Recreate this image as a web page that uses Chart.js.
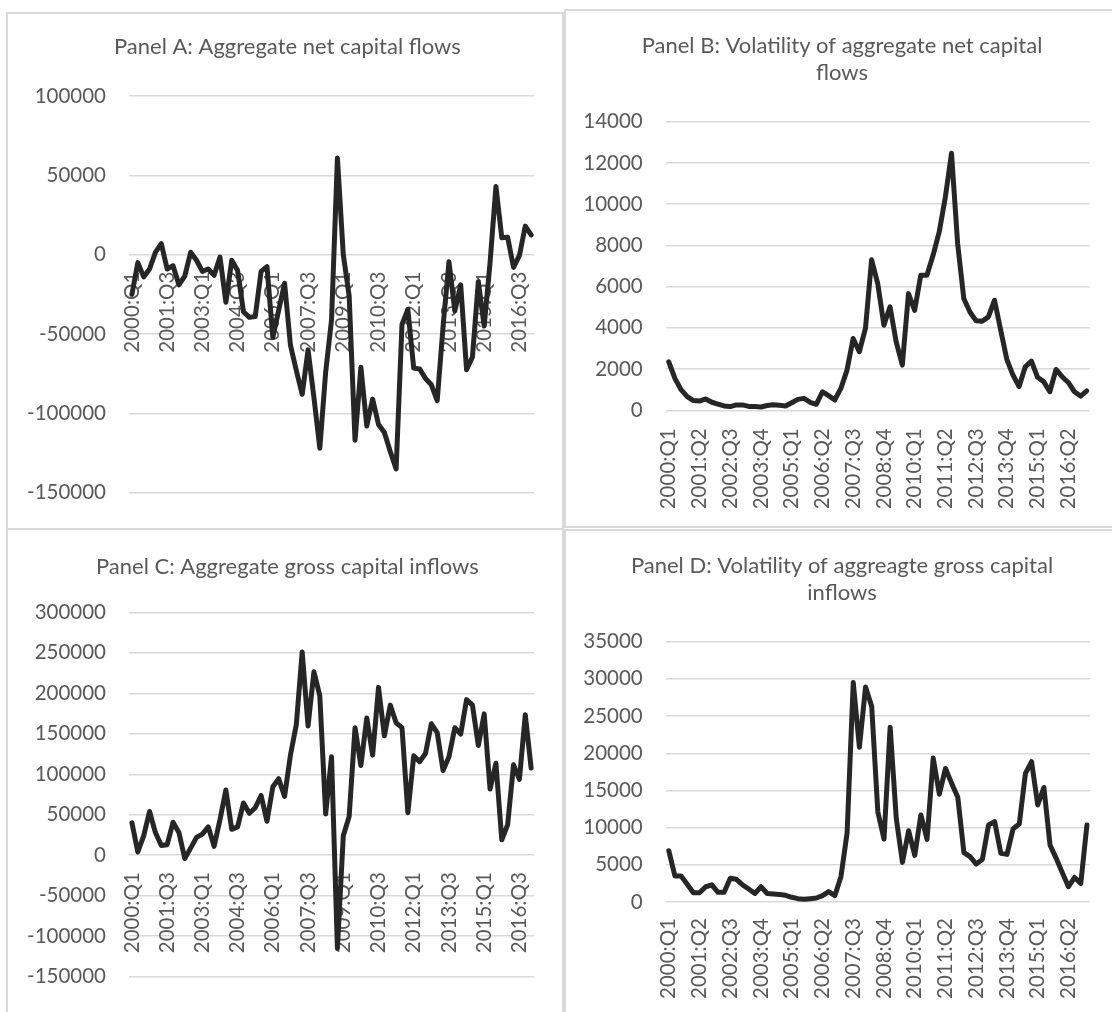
<!DOCTYPE html>
<html>
<head>
<meta charset="utf-8">
<title>Capital flows</title>
<script src="https://cdn.jsdelivr.net/npm/chart.js@4.4.1/dist/chart.umd.min.js"></script>
<style>
  body { margin: 0; background: #fff; width: 1112px; height: 1012px; overflow: hidden; position: relative; }
  .box { position: absolute; box-sizing: border-box; border: 2px solid #d9d9d9; }
  canvas { position: absolute; }
</style>
</head>
<body>
<div class="box" style="left:6px;top:12px;width:558px;height:518px"></div>
<div class="box" style="left:564px;top:9px;width:560px;height:519px"></div>
<div class="box" style="left:6px;top:528px;width:558px;height:500px"></div>
<div class="box" style="left:564px;top:529px;width:560px;height:500px"></div>
<canvas id="panelA" width="554" height="514" style="left:8px;top:14px"></canvas>
<canvas id="panelB" width="546" height="515" style="left:566px;top:11px"></canvas>
<canvas id="panelC" width="554" height="482" style="left:8px;top:530px"></canvas>
<canvas id="panelD" width="546" height="482" style="left:566px;top:530px"></canvas>
<script>
// quarters 2000:Q1 .. 2017:Q1
var quarters = [
  "2000:Q1", "2000:Q2", "2000:Q3", "2000:Q4", "2001:Q1", "2001:Q2", "2001:Q3", "2001:Q4",
  "2002:Q1", "2002:Q2", "2002:Q3", "2002:Q4", "2003:Q1", "2003:Q2", "2003:Q3", "2003:Q4",
  "2004:Q1", "2004:Q2", "2004:Q3", "2004:Q4", "2005:Q1", "2005:Q2", "2005:Q3", "2005:Q4",
  "2006:Q1", "2006:Q2", "2006:Q3", "2006:Q4", "2007:Q1", "2007:Q2", "2007:Q3", "2007:Q4",
  "2008:Q1", "2008:Q2", "2008:Q3", "2008:Q4", "2009:Q1", "2009:Q2", "2009:Q3", "2009:Q4",
  "2010:Q1", "2010:Q2", "2010:Q3", "2010:Q4", "2011:Q1", "2011:Q2", "2011:Q3", "2011:Q4",
  "2012:Q1", "2012:Q2", "2012:Q3", "2012:Q4", "2013:Q1", "2013:Q2", "2013:Q3", "2013:Q4",
  "2014:Q1", "2014:Q2", "2014:Q3", "2014:Q4", "2015:Q1", "2015:Q2", "2015:Q3", "2015:Q4",
  "2016:Q1", "2016:Q2", "2016:Q3", "2016:Q4", "2017:Q1"
];

var netFlows = [
  -25000, -5000, -14000, -9000, 1500, 7000, -9000, -7000, -19000, -13500,
  1500, -3500, -10500, -9000, -13000, -1500, -30000, -3500, -10000, -36000,
  -39500, -39000, -10500, -7500, -52000, -35000, -18000, -57000, -73000, -88000,
  -60000, -90000, -122000, -74000, -41000, 61000, 0, -26000, -117000, -71000,
  -108000, -91000, -107000, -112000, -124000, -135000, -44000, -34500, -71500, -72000,
  -78000, -82000, -92000, -45000, -4500, -35500, -19000, -72500, -64500, -17000,
  -45000, -5000, 43000, 10700, 11000, -8000, -500, 18000, 12500
];

var netVolatility = [
  2350, 1550, 1000, 660, 470, 450, 550, 390, 300, 210,
  180, 260, 260, 190, 180, 160, 230, 270, 240, 210,
  370, 530, 580, 390, 290, 900, 710, 500, 1060, 1950,
  3480, 2840, 3970, 7300, 6150, 4130, 5020, 3320, 2190, 5660,
  4850, 6550, 6550, 7520, 8650, 10340, 12470, 8080, 5420, 4770,
  4340, 4320, 4530, 5340, 3890, 2470, 1710, 1150, 2110, 2390,
  1600, 1390, 900, 1980, 1630, 1350, 900, 690, 940
];

var grossInflows = [
  40000, 4000, 24000, 54000, 28000, 12000, 13000, 40700, 28000, -4000,
  8800, 22000, 26000, 35000, 11000, 44000, 80500, 32000, 35000, 64600,
  51800, 58600, 73800, 41900, 84500, 94500, 72600, 123600, 161500, 251000,
  159500, 226500, 197000, 51000, 121600, -115000, 24000, 47800, 157500, 110800,
  169500, 123600, 207300, 147500, 185400, 163500, 157500, 52600, 122800, 115600,
  125600, 162300, 151500, 104500, 121600, 157500, 149500, 192200, 185400, 135600,
  174600, 81700, 113600, 19100, 37900, 111600, 93700, 173400, 107600
];

var grossVolatility = [
  6900, 3500, 3500, 2400, 1250, 1250, 2050, 2300, 1300, 1300,
  3200, 3050, 2300, 1750, 1150, 2050, 1150, 1080, 1000, 900,
  630, 450, 360, 450, 540, 850, 1400, 850, 3400, 9300,
  29500, 20800, 28900, 26300, 12100, 8470, 23500, 11200, 5330, 9590,
  6270, 11700, 8420, 19350, 14500, 17960, 15950, 14070, 6630, 6090,
  5100, 5730, 10350, 10800, 6540, 6400, 9860, 10480, 17300, 18860,
  13040, 15400, 7660, 5870, 3940, 2060, 3300, 2500, 10350
];

var titleA = "Panel A: Aggregate net capital flows";
var titleB = ["Panel B: Volatility of aggregate net capital", "flows"];
var titleC = "Panel C: Aggregate gross capital inflows";
var titleD = ["Panel D: Volatility of aggreagte gross capital", "inflows"];

Chart.defaults.font.family = "Lato";
Chart.defaults.color = "#595959";

// Excel centres the title a bit right of where Chart.js puts it
var shiftTitle = {
  id: "shiftTitle",
  afterLayout: function (chart, args, opts) {
    if (chart.titleBlock) {
      chart.titleBlock.left += opts.dx;
      chart.titleBlock.right += opts.dx;
    }
  },
};

function makePanel(id, title, values, yMin, yMax, yStep, every, s) {
  var xScale = {
    type: "category",
    offset: true,
    grid: { display: false, drawTicks: false },
    border: { display: false },
    ticks: {
      autoSkip: false,
      minRotation: 90,
      maxRotation: 90,
      padding: s.xPad,
      font: { size: 20.5 },
      color: "#595959",
      callback: function (v, i) {
        return i % every === 0 ? quarters[i] : null;
      },
    },
  };
  if (s.atZero) {
    xScale.position = { y: 0 };
  } else {
    xScale.afterFit = function (scale) {
      scale.height = s.xHeight;
    };
  }

  return new Chart(document.getElementById(id).getContext("2d"), {
    type: "line",
    data: {
      labels: quarters,
      datasets: [
        {
          data: values,
          borderColor: "#262626",
          borderWidth: 5,
          borderJoinStyle: "round",
          borderCapStyle: "round",
          pointRadius: 0,
          tension: 0,
          fill: false,
        },
      ],
    },
    plugins: [shiftTitle],
    options: {
      responsive: false,
      animation: false,
      layout: { padding: { left: 0, top: 0, right: s.padRight, bottom: s.padBottom } },
      plugins: {
        legend: { display: false },
        tooltip: { enabled: false },
        shiftTitle: { dx: s.titleShift },
        title: {
          display: true,
          text: title,
          color: "#595959",
          font: { size: 22, weight: "normal", lineHeight: "27px" },
          padding: { top: s.titleTop, bottom: s.titleBottom },
        },
      },
      scales: {
        x: xScale,
        y: {
          min: yMin,
          max: yMax,
          afterFit: function (scale) {
            scale.width = s.yWidth;
          },
          grid: { color: "#d9d9d9", lineWidth: 1.5, drawTicks: false },
          border: { display: false },
          ticks: {
            stepSize: yStep,
            padding: 23,
            font: { size: 20.5 },
            color: "#595959",
            callback: function (v) {
              return String(v);
            },
          },
        },
      },
    },
  });
}

document.addEventListener("DOMContentLoaded", function () {
  makePanel("panelA", titleA, netFlows, -150000, 100000, 50000, 6, {
    atZero: true, xPad: 17, yWidth: 121, padRight: 27.3, padBottom: 28.3, titleTop: 19.5, titleBottom: 35.5, titleShift: 16,
  });
  makePanel("panelB", titleB, netVolatility, 0, 14000, 2000, 5, {
    atZero: false, xPad: 18, xHeight: 98, yWidth: 99.7, padRight: 22, padBottom: 17.7, titleTop: 21.5, titleBottom: 35.2, titleShift: 14,
  });
  makePanel("panelC", titleC, grossInflows, -150000, 300000, 50000, 6, {
    atZero: true, xPad: 17, yWidth: 121, padRight: 27.3, padBottom: 22.7, titleTop: 23.2, titleBottom: 32.1, titleShift: 16,
  });
  makePanel("panelD", titleD, grossVolatility, 0, 35000, 5000, 5, {
    atZero: false, xPad: 16, xHeight: 98, yWidth: 99.7, padRight: 22, padBottom: 12, titleTop: 22.5, titleBottom: 35.2, titleShift: 14,
  });
});
</script>
</body>
</html>
